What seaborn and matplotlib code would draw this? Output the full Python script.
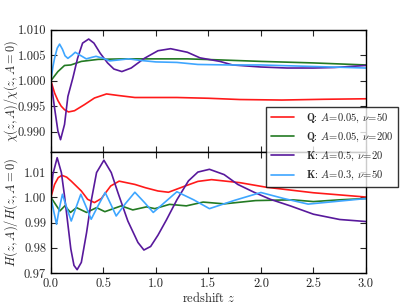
import matplotlib
matplotlib.use("Agg")
import matplotlib.pyplot as plt
from matplotlib.ticker import FormatStrFormatter
import pandas as pd
import seaborn as sns

# model labels (legend order)
labels = [r"$\mathbf{Q}$: $A\!=\!0.05$, $\nu\!=\!50$",
          r"$\mathbf{Q}$: $A\!=\!0.05$, $\nu\!=\!200$",
          r"$\mathbf{K}$: $A\!=\!0.5$, $\nu\!=\!20$",
          r"$\mathbf{K}$: $A\!=\!0.3$, $\nu\!=\!50$"]
colors = ["#ff1a1a", "#237a23", "#58199c", "#3ea6ff"]

# ---- top panel: chi(z,A)/chi(z,A=0)
z_chi_q50 = [0, 0.035, 0.067, 0.098, 0.13, 0.168, 0.225, 0.32, 0.415, 0.53, 0.64,
             0.8, 1.0, 1.2, 1.5, 1.8, 2.2, 2.6, 3.0]
chi_q50 = [1.0, 0.9976, 0.9961, 0.9950, 0.9943, 0.99386, 0.9941, 0.9953, 0.9966,
           0.9974, 0.9971, 0.9967, 0.9967, 0.9967, 0.99655, 0.9963, 0.9962, 0.99635, 0.99645]

z_chi_q200 = [0, 0.067, 0.13, 0.19, 0.29, 0.45, 0.7, 1.0, 1.3, 1.6, 2.0, 2.5, 3.0]
chi_q200 = [1.0, 1.0018, 1.0030, 1.0031, 1.0038, 1.0042, 1.0043, 1.0043, 1.0043,
            1.0041, 1.0038, 1.0035, 1.0031]

z_chi_k20 = [0, 0.035, 0.067, 0.092, 0.13, 0.162, 0.21, 0.254, 0.302, 0.36, 0.41,
             0.47, 0.54, 0.6, 0.676, 0.765, 0.89, 1.02, 1.14, 1.3, 1.42, 1.61, 1.73,
             2.0, 2.25, 2.5, 2.7, 3.0]
chi_k20 = [1.0, 0.99465, 0.9901, 0.9884, 0.9914, 0.9969, 1.0006, 1.0044, 1.0074,
           1.0082, 1.0074, 1.0054, 1.0035, 1.0023, 1.0018, 1.0025, 1.0044, 1.0059,
           1.0063, 1.0056, 1.0045, 1.0038, 1.0031, 1.0027, 1.0025, 1.0025, 1.0026, 1.0030]

z_chi_k50 = [0, 0.02, 0.035, 0.06, 0.083, 0.11, 0.135, 0.162, 0.2, 0.232, 0.28,
             0.337, 0.39, 0.43, 0.5, 0.56, 0.65, 0.74, 0.85, 1.0, 1.2, 1.4, 1.7,
             2.0, 2.5, 3.0]
chi_k50 = [1.0, 1.0028, 1.0044, 1.0064, 1.0072, 1.0062, 1.0049, 1.0044, 1.0050,
           1.0056, 1.0050, 1.0043, 1.0046, 1.0048, 1.0044, 1.0039, 1.0041, 1.0043,
           1.0040, 1.0037, 1.0036, 1.0032, 1.0031, 1.0031, 1.0028, 1.0025]

# ---- bottom panel: H(z,A)/H(z,A=0)
z_h_q50 = [0, 0.035, 0.07, 0.105, 0.15, 0.194, 0.29, 0.35, 0.415, 0.48, 0.57, 0.65,
           0.8, 0.9, 1.02, 1.12, 1.28, 1.4, 1.53, 1.8, 2.05, 2.5, 3.0]
h_q50 = [1.0, 1.0051, 1.0078, 1.0087, 1.0080, 1.0064, 1.0025, 0.9992, 0.9979,
         0.9995, 1.0045, 1.0064, 1.0051, 1.0038, 1.0025, 1.0020, 1.0045, 1.0063,
         1.0070, 1.0058, 1.0040, 1.0018, 1.0001]

z_h_q200 = [0, 0.054, 0.086, 0.133, 0.187, 0.244, 0.34, 0.435, 0.514, 0.67, 0.78,
            0.91, 0.99, 1.13, 1.29, 1.45, 1.65, 1.95, 2.3, 2.5, 2.75, 3.0]
h_q200 = [1.0, 0.9966, 0.9946, 0.9966, 0.9940, 0.9959, 0.9940, 0.9959, 0.9943,
          0.9966, 0.9950, 0.9962, 0.9955, 0.9972, 0.9966, 0.9981, 0.9974, 0.9987,
          0.9990, 0.9983, 0.9990, 0.9995]

z_h_k20 = [0, 0.019, 0.06, 0.1, 0.13, 0.16, 0.19, 0.22, 0.25, 0.29, 0.34, 0.387,
           0.435, 0.505, 0.575, 0.638, 0.733, 0.829, 0.886, 0.95, 1.02, 1.1, 1.2,
           1.31, 1.4, 1.51, 1.65, 1.78, 1.94, 2.09, 2.28, 2.5, 2.75, 3.0]
h_k20 = [1.0, 1.0091, 1.0157, 1.0098, 1.0005, 0.9900, 0.9795, 0.9730, 0.9713,
         0.9742, 0.9860, 0.9992, 1.0098, 1.0147, 1.0098, 1.0019, 0.9906, 0.9821,
         0.9791, 0.9805, 0.9850, 0.9910, 0.9990, 1.0065, 1.0100, 1.0111, 1.0090,
         1.0051, 1.0019, 0.9992, 0.9966, 0.9933, 0.9912, 0.9904]

z_h_k50 = [0, 0.027, 0.054, 0.08, 0.11, 0.15, 0.194, 0.24, 0.285, 0.335, 0.384,
           0.45, 0.517, 0.57, 0.622, 0.71, 0.80, 0.89, 0.975, 1.09, 1.2, 1.36, 1.51,
           1.75, 2.0, 2.22, 2.45, 2.7, 3.0]
h_k50 = [1.0, 0.9945, 0.9893, 0.9955, 1.0012, 0.9960, 0.9906, 0.9960, 1.0012,
         0.9963, 0.9913, 0.9967, 1.0019, 0.9973, 0.9926, 0.9975, 1.0020, 0.9980,
         0.9940, 0.9982, 1.0022, 0.9990, 0.9955, 0.9988, 1.0019, 0.9995, 0.9973,
         0.9983, 0.9995]


def long_frame(curves):
    parts = []
    for lab, (z, v) in zip(labels, curves):
        parts.append(pd.DataFrame({"z": z, "val": v, "model": lab}))
    return pd.concat(parts, ignore_index=True)


df_chi = long_frame([(z_chi_q50, chi_q50), (z_chi_q200, chi_q200),
                     (z_chi_k20, chi_k20), (z_chi_k50, chi_k50)])
df_h = long_frame([(z_h_q50, h_q50), (z_h_q200, h_q200),
                   (z_h_k20, h_k20), (z_h_k50, h_k50)])

sns.set_style("ticks")
plt.rcParams.update({
    "font.family": "serif",
    "font.serif": ["cmr10", "DejaVu Serif"],
    "mathtext.fontset": "cm",
    "axes.formatter.use_mathtext": True,
    "axes.unicode_minus": False,
    "xtick.direction": "in",
    "ytick.direction": "in",
    "xtick.top": True,
    "ytick.right": True,
    "xtick.major.size": 4,
    "ytick.major.size": 4,
    "axes.edgecolor": "black",
    "axes.linewidth": 1.0,
    "font.size": 9,
})

palette = dict(zip(labels, colors))

fig = plt.figure(figsize=(4.07, 3.05), dpi=100)
ax1 = fig.add_axes([0.125, 0.502, 0.774, 0.400])
ax2 = fig.add_axes([0.125, 0.105, 0.774, 0.397], sharex=ax1)

sns.lineplot(data=df_chi, x="z", y="val", hue="model", hue_order=labels,
             palette=palette, estimator=None, sort=True, lw=1.2, ax=ax1, legend=True)
sns.lineplot(data=df_h, x="z", y="val", hue="model", hue_order=labels,
             palette=palette, estimator=None, sort=True, lw=1.2, ax=ax2, legend=False)

handles, hlabels = ax1.get_legend_handles_labels()
ax1.get_legend().remove()

ax1.set_xlim(0, 3)
ax1.set_ylim(0.986, 1.010)
ax1.set_yticks([0.990, 0.995, 1.000, 1.005, 1.010])
ax1.yaxis.set_major_formatter(FormatStrFormatter("%.3f"))
ax1.tick_params(labelbottom=False, labelsize=9)
ax1.set_xlabel("")
ax1.set_ylabel(r"$\chi(z,A)/\chi(z,A=0)$", fontsize=8.8)
ax1.yaxis.set_label_coords(-0.098, 0.5)

ax2.set_ylim(0.97, 1.018)
ax2.set_yticks([0.97, 0.98, 0.99, 1.00, 1.01])
ax2.yaxis.set_major_formatter(FormatStrFormatter("%.2f"))
ax2.set_xticks([0, 0.5, 1.0, 1.5, 2.0, 2.5, 3.0])
ax2.xaxis.set_major_formatter(FormatStrFormatter("%.1f"))
ax2.tick_params(labelsize=9)
ax2.set_xlabel(r"redshift $z$", fontsize=9, labelpad=1)
ax2.set_ylabel(r"$H(z,A)/H(z,A=0)$", fontsize=9)
ax2.yaxis.set_label_coords(-0.098, 0.5)

for ax in (ax1, ax2):
    ax.tick_params(which="both", top=True, right=True, direction="in")

leg = fig.legend(handles, hlabels, loc="upper left",
                 bbox_to_anchor=(266 / 407, 1 - 107 / 305),
                 frameon=True, fancybox=False, edgecolor="black",
                 fontsize=7.6, borderaxespad=0, handlelength=2.2,
                 handletextpad=1.1, labelspacing=0.55, borderpad=0.45)
leg.get_frame().set_linewidth(1.0)

fig.savefig("out.png", dpi=100)
